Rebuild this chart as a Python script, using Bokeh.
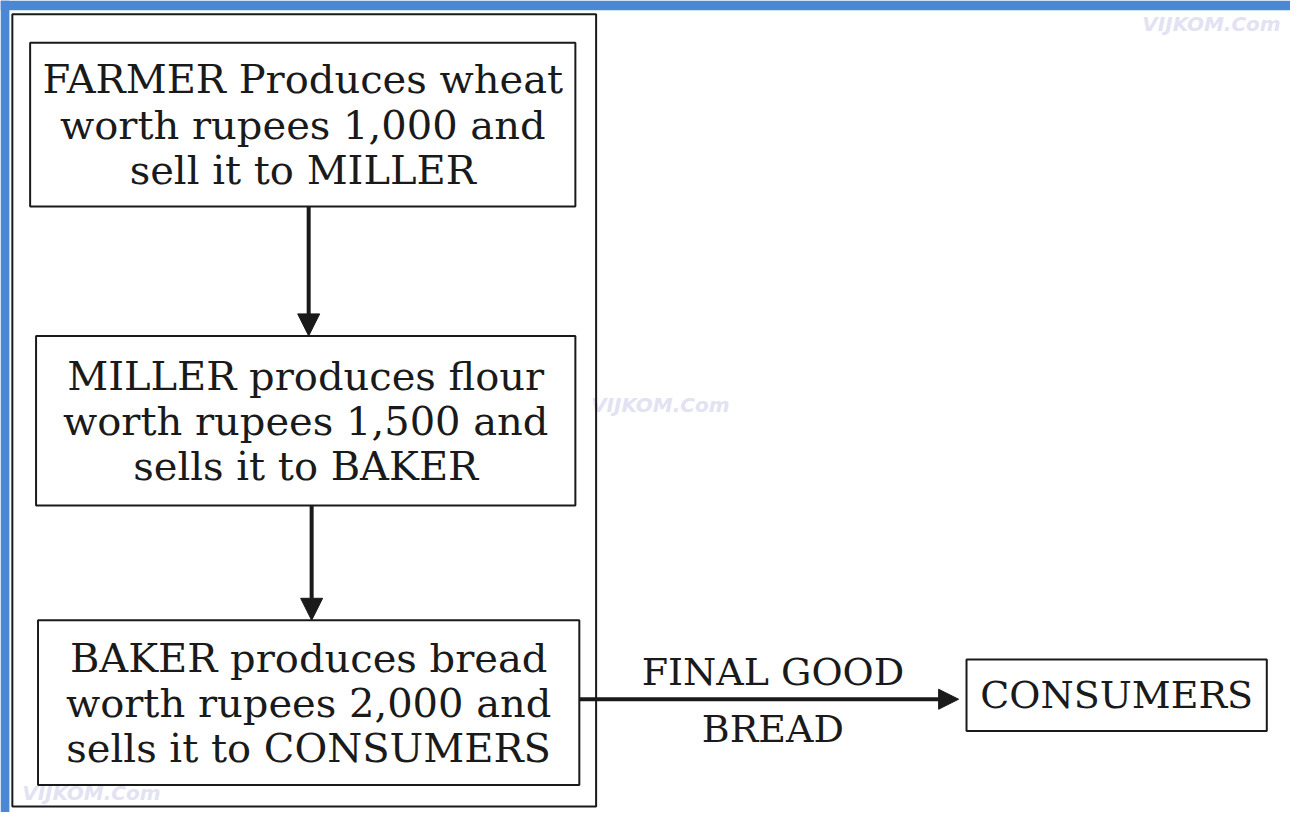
from bokeh.plotting import figure
from bokeh.models import Range1d, Arrow, NormalHead
from bokeh.core.properties import value
from bokeh.embed import file_html
from bokeh.resources import INLINE

# ---- content ----
producers = ["FARMER", "MILLER", "BAKER"]
verbs = ["Produces", "produces", "produces"]
goods = ["wheat", "flour", "bread"]
worth_rupees = ["1,000", "1,500", "2,000"]
sell_verb = ["sell", "sells", "sells"]
buyers = ["MILLER", "BAKER", "CONSUMERS"]
final_label = ["FINAL GOOD", "BREAD"]
final_buyer = "CONSUMERS"
watermark = "VIJKOM.Com"

# ---- layout (pixel coordinates of the picture) ----
box_left = [30, 36, 38]
box_right = [582, 582, 586]
box_top = [43, 342, 632]
box_bottom = [210, 515, 800]
line_gap = 46
outer = (12, 603, 14, 822)
cons_box = (978, 1282, 672, 745)
wm_pos = [(1226, 24), (668, 412), (92, 808)]

FONT = value("DejaVu Serif")
INK = "#1a1a1a"
BLUE = "#4b87d5"

p = figure(width=1290, height=812, output_backend="svg", toolbar_location=None,
           x_range=Range1d(0, 1306), y_range=Range1d(828, 0),
           min_border=0, background_fill_color="white", border_fill_color="white")
p.axis.visible = False
p.grid.visible = False
p.outline_line_color = None

# blue frame strips
p.quad(left=[0, 0], right=[1306, 9], top=[0, 0], bottom=[10, 828],
       fill_color=BLUE, line_color=None)

# watermarks
p.text(x=[w[0] for w in wm_pos], y=[w[1] for w in wm_pos], text=[watermark] * 3,
       text_font=value("DejaVu Sans"), text_font_style="bold italic",
       text_font_size="20px", text_color="#e2e2f2", text_align="center",
       text_baseline="middle")

# outer frame
p.quad(left=[outer[0]], right=[outer[1]], top=[outer[2]], bottom=[outer[3]],
       fill_color=None, line_color=INK, line_width=2)

# stage boxes
p.quad(left=box_left, right=box_right, top=box_top, bottom=box_bottom,
       fill_color=None, line_color=INK, line_width=2)

xs, ys, texts = [], [], []
for i in range(3):
    lines = [f"{producers[i]} {verbs[i]} {goods[i]}",
             f"worth rupees {worth_rupees[i]} and",
             f"{sell_verb[i]} it to {buyers[i]}"]
    cx = (box_left[i] + box_right[i]) / 2
    cy = (box_top[i] + box_bottom[i]) / 2
    for k, t in enumerate(lines):
        xs.append(cx)
        ys.append(cy + (k - 1) * line_gap)
        texts.append(t)
p.text(x=xs, y=ys, text=texts, text_font=FONT, text_font_size="40px",
       text_color=INK, text_align="center", text_baseline="middle")

# vertical arrows
for i in range(2):
    ax = (box_left[i] + box_right[i]) / 2 + 6
    p.add_layout(Arrow(end=NormalHead(size=22, fill_color=INK, line_color=INK),
                       x_start=ax, y_start=box_bottom[i], x_end=ax, y_end=box_top[i + 1],
                       line_width=4, line_color=INK))

# horizontal arrow to consumers
hy = (cons_box[2] + cons_box[3]) / 2 + 4
p.add_layout(Arrow(end=NormalHead(size=20, fill_color=INK, line_color=INK),
                   x_start=box_right[2], y_start=hy, x_end=cons_box[0] - 8, y_end=hy,
                   line_width=4, line_color=INK))
mid = (box_right[2] + cons_box[0]) / 2
p.text(x=[mid, mid], y=[hy - 28, hy + 30], text=final_label, text_font=FONT,
       text_font_size="38px", text_color=INK, text_align="center", text_baseline="middle")

# consumers box
p.quad(left=[cons_box[0]], right=[cons_box[1]], top=[cons_box[2]], bottom=[cons_box[3]],
       fill_color=None, line_color=INK, line_width=2)
p.text(x=[(cons_box[0] + cons_box[1]) / 2], y=[(cons_box[2] + cons_box[3]) / 2],
       text=[final_buyer], text_font=FONT, text_font_size="38px", text_color=INK,
       text_align="center", text_baseline="middle")

open("out.html", "w").write(file_html(p, INLINE))
